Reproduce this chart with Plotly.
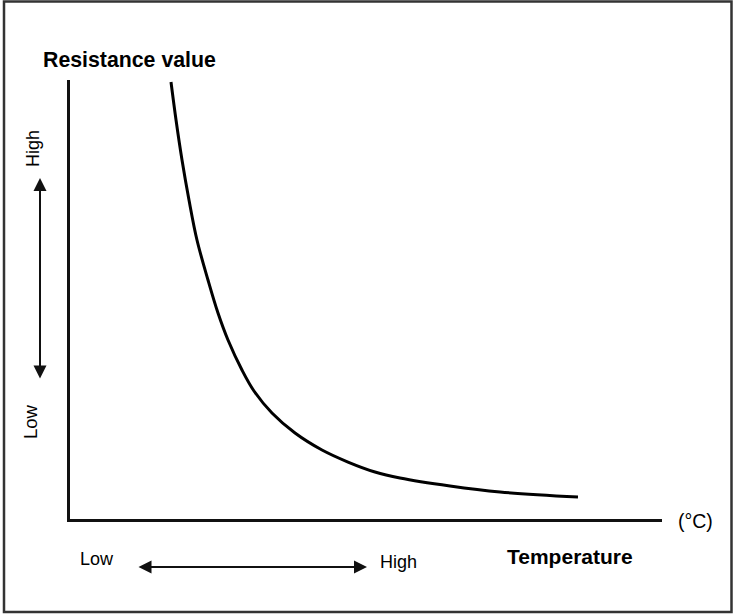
import plotly.graph_objects as go

# Thermistor (NTC) characteristic: resistance falls steeply as temperature rises
temperature = [17.06, 17.91, 18.92, 20.10, 21.45, 23.31, 25.00, 26.69, 29.05,
               31.08, 34.12, 38.01, 42.57, 46.96, 51.52, 55.74, 64.19, 72.64,
               85.81]
resistance = [99.54, 90.89, 81.78, 72.67, 63.55, 54.44, 46.92, 40.77, 33.94,
              29.16, 24.15, 19.59, 15.72, 12.98, 10.71, 9.34, 7.52, 6.15,
              5.01]

W, H = 734, 615
L, R, T, B = 70, 72, 80, 96
PW, PH = W - L - R, H - T - B

FONT = "Liberation Sans, Arial, Helvetica, sans-serif"


def px(x):
    """page x (pixels) -> paper x"""
    return (x - L) / PW


def py(y):
    """page y (pixels) -> paper y"""
    return (H - B - y) / PH


fig = go.Figure()
fig.add_trace(go.Scatter(
    x=temperature, y=resistance, mode="lines",
    line=dict(color="#000000", width=3, shape="spline", smoothing=1.0),
    hoverinfo="skip", showlegend=False,
))

axis_common = dict(showgrid=False, zeroline=False, showticklabels=False,
                   ticks="", showline=True, linecolor="#111111", linewidth=2.5,
                   fixedrange=True)
fig.update_xaxes(range=[0, 100], **axis_common)
fig.update_yaxes(range=[0, 100], **axis_common)


def label(text, x, y, size, bold=False, angle=0):
    fig.add_annotation(
        text=f"<b>{text}</b>" if bold else text,
        x=px(x), y=py(y), xref="paper", yref="paper",
        xanchor="center", yanchor="middle", showarrow=False,
        textangle=angle,
        font=dict(family=FONT, size=size, color="#000000"),
    )


label("Resistance value", 129, 60, 21.3, bold=True)
label("Temperature", 570, 556, 21, bold=True)
label("(°C)", 695, 521, 19.5)
label("Low", 97, 559, 18)
label("High", 398, 562, 18)
label("High", 33, 149, 18, angle=-90)
label("Low", 30, 422, 18.5, angle=-90)

# double-headed direction arrows
fig.add_annotation(x=px(40), y=py(178), xref="paper", yref="paper",
                   ax=0, ay=202, axref="pixel", ayref="pixel", text="",
                   showarrow=True, arrowhead=2, startarrowhead=2,
                   arrowside="end+start", arrowsize=1.3, startarrowsize=1.3,
                   arrowwidth=2, arrowcolor="#111111", standoff=0, startstandoff=0)
fig.add_annotation(x=px(367), y=py(567), xref="paper", yref="paper",
                   ax=-230, ay=0, axref="pixel", ayref="pixel", text="",
                   showarrow=True, arrowhead=2, startarrowhead=2,
                   arrowside="end+start", arrowsize=1.3, startarrowsize=1.3,
                   arrowwidth=2, arrowcolor="#111111", standoff=0, startstandoff=0)

# outer frame
fig.add_shape(type="rect", xref="paper", yref="paper",
              x0=px(4), x1=px(731.5), y0=py(612), y1=py(1.5),
              line=dict(color="#333333", width=2.5), layer="above")

fig.update_layout(
    width=W, height=H,
    margin=dict(l=L, r=R, t=T, b=B),
    paper_bgcolor="#ffffff", plot_bgcolor="#ffffff",
    showlegend=False,
)

fig.write_html("out.html", config={"displayModeBar": False})
